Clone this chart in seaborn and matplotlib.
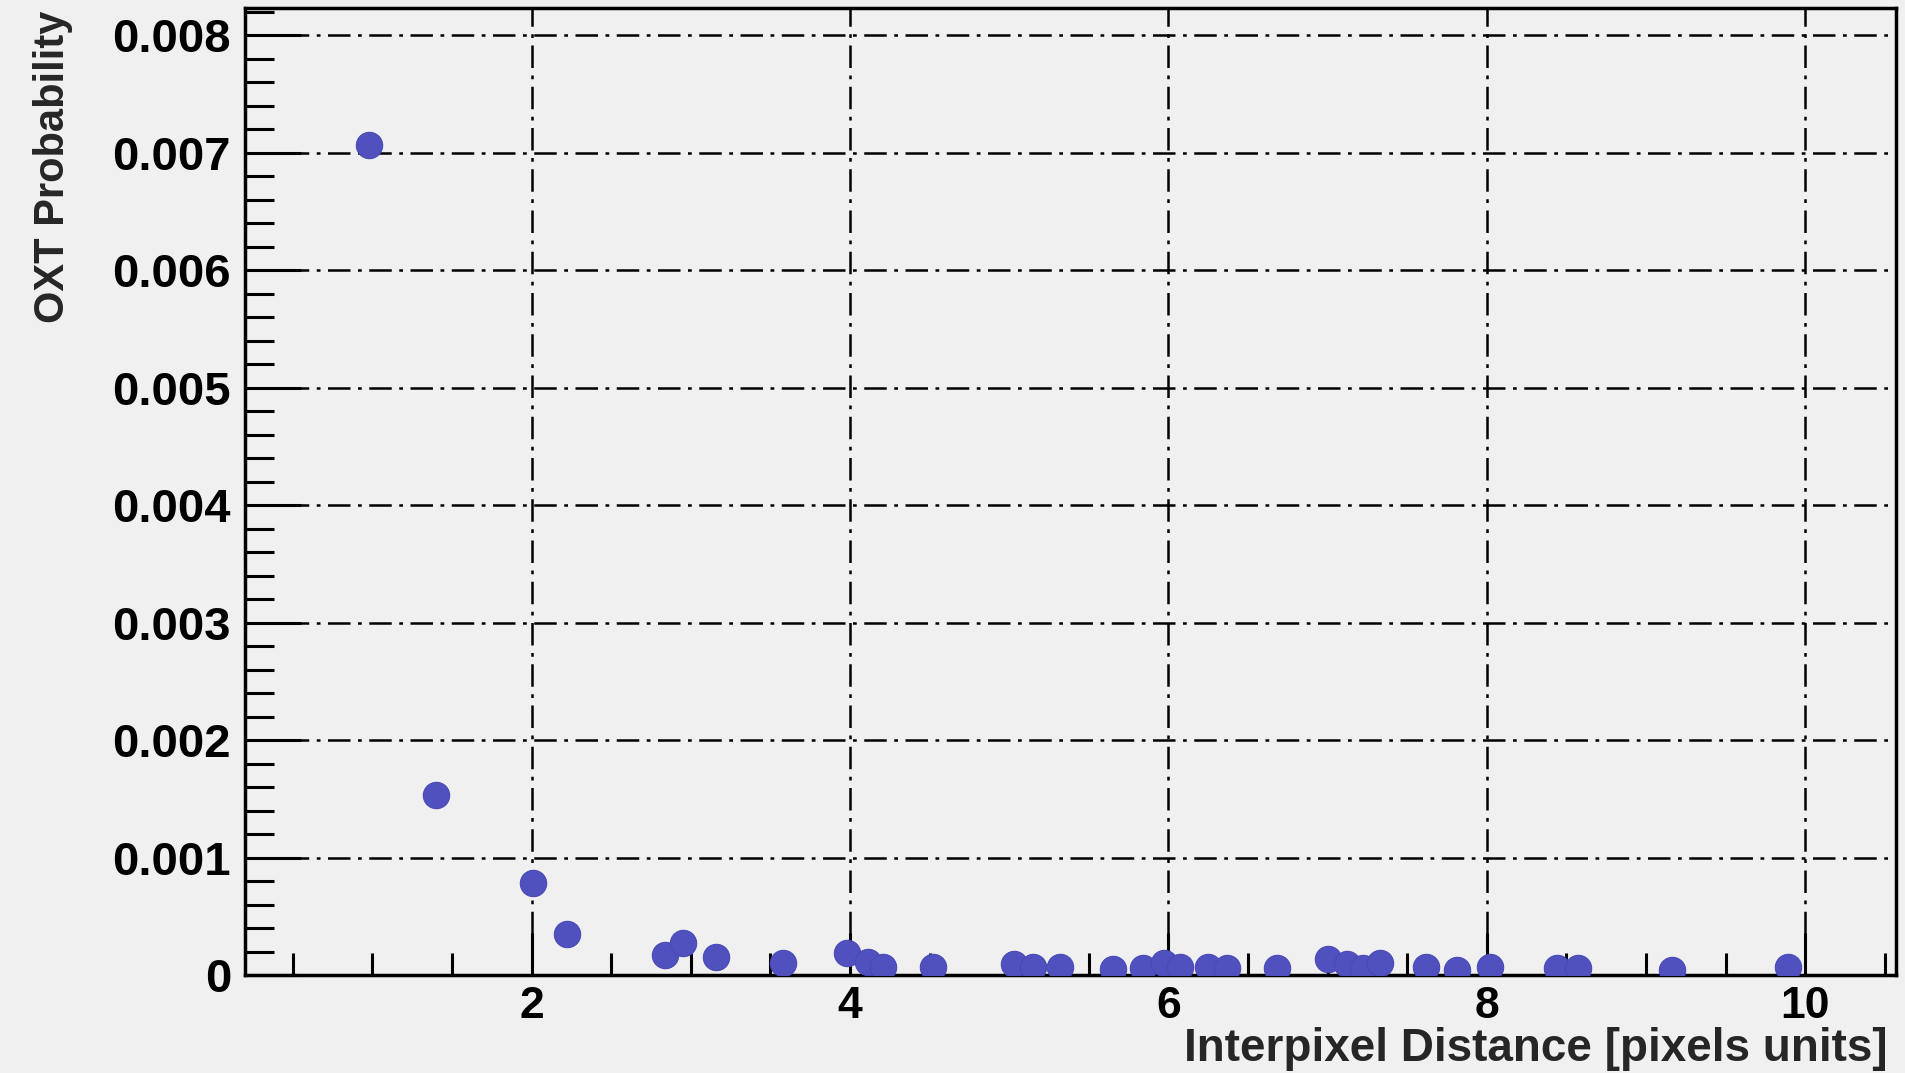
import numpy as np
import pandas as pd
import matplotlib
matplotlib.use('Agg')
import matplotlib.pyplot as plt
from matplotlib.ticker import MultipleLocator, FuncFormatter
import seaborn as sns

# values
distance = [0.98, 1.40, 2.01, 2.22, 2.84, 2.95, 3.16, 3.58, 3.98, 4.11, 4.21, 4.52,
            5.03, 5.15, 5.32, 5.65, 5.84, 5.97, 6.07, 6.25, 6.37, 6.68,
            7.00, 7.12, 7.22, 7.33, 7.62, 7.81, 8.02, 8.44, 8.57, 9.16, 9.89]
oxt_prob = [0.00706, 0.00153, 0.00078, 0.00035, 0.00017, 0.00027, 0.00015, 0.00010,
            0.00019, 0.00011, 0.00007, 0.00007,
            0.00009, 0.00007, 0.00007, 0.00005, 0.00006, 0.00010, 0.00007, 0.00007,
            0.00006, 0.00006,
            0.00014, 0.00009, 0.00006, 0.00010, 0.00007, 0.00004, 0.00007, 0.00006,
            0.00006, 0.00004, 0.00007]

df = pd.DataFrame({'dist': distance, 'prob': oxt_prob})

sns.set_style('ticks', {'axes.facecolor': '#f0f0f0', 'figure.facecolor': '#f0f0f0'})
plt.rcParams['font.family'] = ['Liberation Sans', 'DejaVu Sans']

fig = plt.figure(figsize=(19.05, 10.73), dpi=100)
ax = fig.add_axes([245/1905, 1-975/1073, (1896-245)/1905, 967/1073])

sns.scatterplot(data=df, x='dist', y='prob', ax=ax, s=360, color='#5050bf',
                edgecolor='#4a4ab5', linewidth=0.8, zorder=5)

ax.set_xlim(0.2, 10.57)
ax.set_ylim(0, 0.00823)

ax.xaxis.set_major_locator(MultipleLocator(2))
ax.xaxis.set_minor_locator(MultipleLocator(0.5))
ax.yaxis.set_major_locator(MultipleLocator(0.001))
ax.yaxis.set_minor_locator(MultipleLocator(0.0002))
ax.yaxis.set_major_formatter(FuncFormatter(lambda v, p: '0' if abs(v) < 1e-12 else f'{v:.3f}'))
ax.xaxis.set_major_formatter(FuncFormatter(lambda v, p: f'{v:g}'))

ax.tick_params(axis='both', which='both', direction='in', width=2.2, colors='black')
ax.tick_params(axis='x', which='major', length=30, pad=8, labelsize=32)
ax.tick_params(axis='x', which='minor', length=16)
ax.tick_params(axis='y', which='major', length=40, pad=10, labelsize=34)
ax.tick_params(axis='y', which='minor', length=21)
for lab in ax.get_xticklabels() + ax.get_yticklabels():
    lab.set_fontweight('bold')

for sp in ax.spines.values():
    sp.set_linewidth(2.5)
    sp.set_color('black')

ax.grid(True, which='major', color='black', linewidth=1.8, dashes=(9, 3, 1.5, 3))
ax.set_axisbelow(True)

ax.set_xlabel('Interpixel Distance [pixels units]', fontsize=33, fontweight='bold',
              ha='right', va='center', x=1.0)
ax.set_ylabel('OXT Probability', fontsize=30, fontweight='bold', ha='right', y=1.0)
ax.xaxis.set_label_coords(0.995, -0.077)
ax.yaxis.set_label_coords(-0.104, 0.997)

plt.savefig('out.png', dpi=100, facecolor='#f0f0f0')
